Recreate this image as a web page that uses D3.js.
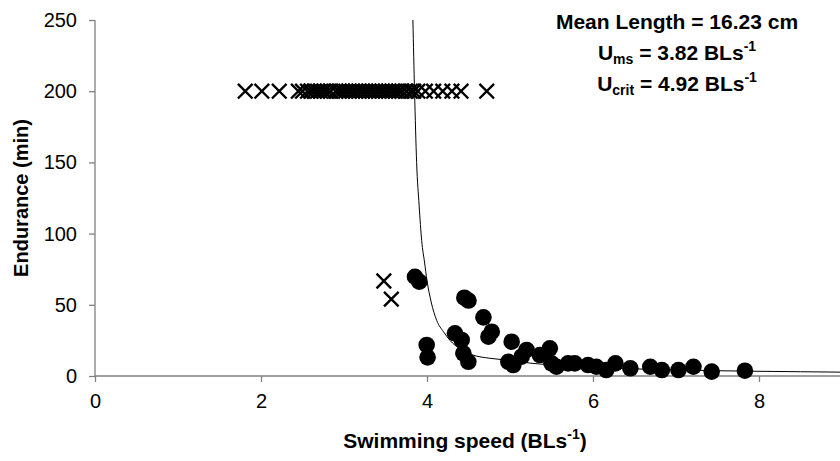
<!DOCTYPE html>
<html>
<head>
<meta charset="utf-8">
<script src="https://cdn.jsdelivr.net/npm/d3@7"></script>
<style>
  body { margin: 0; background: #fff; }
  svg { display: block; font-family: "Liberation Sans", Arial, sans-serif; }
</style>
</head>
<body>
<svg id="chart"></svg>
<script>
// speeds of fish that completed the 200 min trial (censored)
const censoredX = [1.81, 2.01, 2.22, 2.45, 2.5, 2.56, 2.6, 2.64, 2.68, 2.72, 2.76, 2.8, 2.84,
    2.9, 2.94, 2.98, 3.02, 3.06, 3.1, 3.14, 3.18, 3.22, 3.26, 3.3, 3.34, 3.38, 3.42, 3.46,
    3.5, 3.54, 3.58, 3.62, 3.66, 3.7, 3.75, 3.8, 3.84, 3.89, 3.98, 4.08, 4.19, 4.3, 4.41, 4.72];
const censoredY = 200;

// other crosses
const crossX = [3.48, 3.57];
const crossY = [66.7, 54];

// fatigued fish
const dotX = [3.855, 3.907, 3.996, 4.007, 4.337, 4.418, 4.45, 4.5, 4.438, 4.498, 4.68, 4.78, 4.74,
    4.98, 5.04, 5.02, 5.14, 5.2, 5.36, 5.48, 5.5, 5.56, 5.7, 5.78, 5.94, 6.04, 6.16, 6.27,
    6.45, 6.69, 6.83, 7.03, 7.21, 7.43, 7.83];
const dotY = [69.7, 66.2, 21.8, 13.1, 30, 25.3, 55, 53, 15.9, 10, 41.2, 31.1, 27.6,
    10, 7.7, 24.1, 13.6, 18.3, 14.7, 19.4, 8.9, 6.5, 8.9, 8.9, 7.7, 6.5, 4.2, 8.9,
    5.4, 6.5, 4.2, 4.2, 6.5, 3.1, 3.7];

// fitted endurance curve
const curveX = [3.83, 3.85, 3.875, 3.905, 3.936, 3.97, 4.0, 4.05, 4.117, 4.2, 4.277, 4.4, 4.554,
    4.75, 4.96, 5.25, 5.5, 6, 6.5, 7, 7.5, 8, 8.5, 9];
const curveY = [250, 200, 150, 120, 95, 80, 67, 52, 39, 31, 25, 19, 14.7,
    12.5, 11.2, 9, 7.8, 6, 5, 4.3, 3.7, 3.3, 3, 2.7];

const xTicks = [0, 2, 4, 6, 8];
const yTicks = [0, 50, 100, 150, 200, 250];

const width = 840, height = 461;
const svg = d3.select("#chart").attr("width", width).attr("height", height);

const x = d3.scaleLinear().domain([0, 9]).range([95, 842]);
const y = d3.scaleLinear().domain([0, 250]).range([376, 20]);

const axisColor = "#808080";
const fs = 20;
const tfs = 21;

// x axis
const gX = svg.append("g")
    .attr("transform", `translate(0, ${y(0)})`)
    .call(d3.axisBottom(x).tickValues(xTicks).tickSize(6).tickPadding(12).tickFormat(d3.format("d")));
gX.select(".domain").attr("stroke", axisColor).attr("stroke-width", 1.3).attr("d", `M${x(0)},0H${width}`);
gX.selectAll(".tick line").attr("stroke", axisColor).attr("stroke-width", 1.3);
gX.selectAll(".tick text").attr("fill", "#000").style("font-size", fs + "px");

// y axis
const gY = svg.append("g")
    .attr("transform", `translate(${x(0)}, 0)`)
    .call(d3.axisLeft(y).tickValues(yTicks).tickSize(6).tickPadding(12));
gY.select(".domain").attr("stroke", axisColor).attr("stroke-width", 1.3).attr("d", `M0,${y(250)}V${y(0)}`);
gY.selectAll(".tick line").attr("stroke", axisColor).attr("stroke-width", 1.3);
gY.selectAll(".tick text").attr("fill", "#000").style("font-size", fs + "px");

// clip to the plot area
svg.append("clipPath").attr("id", "plot")
    .append("rect").attr("x", x(0)).attr("y", y(250)).attr("width", width - x(0)).attr("height", y(0) - y(250));

// fitted curve
const curveData = curveX.map((v, i) => [v, curveY[i]]);
svg.append("path")
    .datum(curveData)
    .attr("clip-path", "url(#plot)")
    .attr("fill", "none")
    .attr("stroke", "#000")
    .attr("stroke-width", 1)
    .attr("d", d3.line().x(d => x(d[0])).y(d => y(d[1])).curve(d3.curveMonotoneX));

// dots
const dots = dotX.map((v, i) => [v, dotY[i]]);
svg.append("g").selectAll("circle")
    .data(dots)
    .join("circle")
    .attr("cx", d => x(d[0]))
    .attr("cy", d => y(d[1]))
    .attr("r", 8.3)
    .attr("fill", "#000");

// crosses
const h = 7.3;
const crossPath = d => {
    const cx = x(d[0]), cy = y(d[1]);
    return `M${cx - h},${cy - h}L${cx + h},${cy + h}M${cx - h},${cy + h}L${cx + h},${cy - h}`;
};
const crosses = censoredX.map(v => [v, censoredY]).concat(crossX.map((v, i) => [v, crossY[i]]));
svg.append("g").selectAll("path")
    .data(crosses)
    .join("path")
    .attr("d", crossPath)
    .attr("stroke", "#000")
    .attr("stroke-width", 2.4)
    .attr("fill", "none");

// axis titles
const xt = svg.append("text")
    .attr("x", 465).attr("y", 448)
    .attr("text-anchor", "middle")
    .style("font-size", tfs + "px").style("font-weight", "bold");
xt.append("tspan").text("Swimming speed (BLs");
xt.append("tspan").text("-1").style("font-size", "14px").attr("dy", -9);
xt.append("tspan").text(")").attr("dy", 9);

svg.append("text")
    .attr("transform", "translate(28, 198) rotate(-90)")
    .attr("text-anchor", "middle")
    .style("font-size", fs + "px").style("font-weight", "bold")
    .text("Endurance (min)");

// annotation
const ax = 677;
svg.append("text")
    .attr("x", ax).attr("y", 29)
    .attr("text-anchor", "middle")
    .style("font-size", tfs + "px").style("font-weight", "bold")
    .text("Mean Length = 16.23 cm");

function annot(yPos, sub, value) {
    const t = svg.append("text")
        .attr("x", ax).attr("y", yPos)
        .attr("text-anchor", "middle")
        .style("font-size", tfs + "px").style("font-weight", "bold");
    t.append("tspan").text("U");
    t.append("tspan").text(sub).style("font-size", "14px").attr("dy", 4);
    t.append("tspan").text(" = " + value + " BLs").attr("dy", -4);
    t.append("tspan").text("-1").style("font-size", "14px").attr("dy", -9);
}
annot(60, "ms", "3.82");
annot(91, "crit", "4.92");
</script>
</body>
</html>
